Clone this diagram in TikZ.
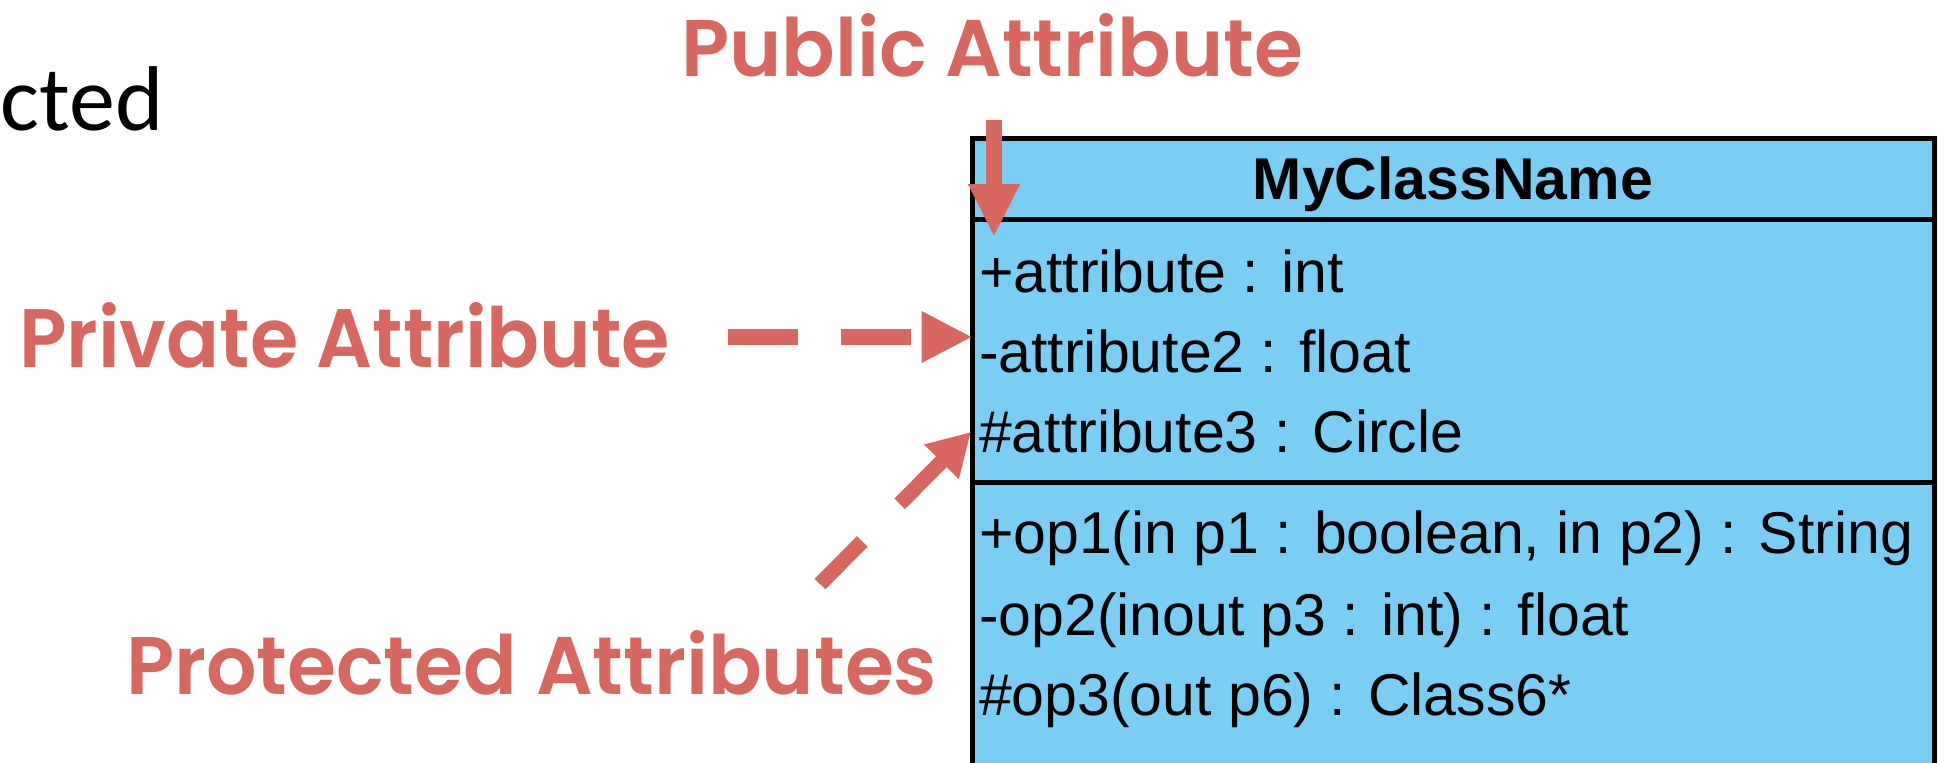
\documentclass[tikz,border=0pt]{standalone}
\usepackage{fontspec}
\setmainfont{Liberation Sans}
\newfontfamily\calloutfont{Poppins SemiBold}
\newfontfamily\slidefont{Carlito}
\usetikzlibrary{arrows.meta}
\definecolor{callout}{RGB}{216,103,95}
\definecolor{classfill}{RGB}{122,206,243}

\begin{document}
\begin{tikzpicture}[x=0.5pt,y=-0.5pt,
  callout/.style={inner sep=0pt, outer sep=0pt, text=callout, anchor=base west},
  member/.style={inner sep=0pt, outer sep=0pt, anchor=base west,
    font=\fontsize{29.5pt}{30pt}\selectfont},
  part/.style={draw=black, line width=2.5pt, fill=classfill, inner sep=0pt,
    outer sep=0pt, anchor=north west, minimum width=481pt},
  pointer/.style={draw=callout, line width=8pt},
]
\path[use as bounding box] (0,0) rectangle (1944,762);
\clip (0,0) rectangle (1944,762);

% class box: name, attributes, operations
\node[part, minimum height=40.25pt] (hdr) at (972.5,138.5) {};
\node[part, minimum height=131.5pt] (attrs) at (hdr.south west) {};
\node[part, minimum height=159pt] (ops) at (attrs.south west) {};

\node[inner sep=0pt, anchor=base, font=\bfseries\fontsize{29.5pt}{30pt}\selectfont]
  (cname) at (1453,199) {MyClassName};

\node[member] (a1) at (979,292) {+attribute : int};
\node[member] (a2) at (979,372) {-attribute2 : float};
\node[member] (a3) at (979,452) {\#attribute3 : Circle};
\node[member] (o1) at (979,553) {+op1(in p1 : boolean, in p2) : String};
\node[member] (o2) at (979,635) {-op2(inout p3 : int) : float};
\node[member] (o3) at (979,715) {\#op3(out p6) : Class6*};

% fragment of a heading on the left
\node[inner sep=0pt, anchor=base west] (frag) at (0,130)
  {\slidefont\fontsize{46pt}{50pt}\selectfont cted};

% callout labels
\node[callout] (pub) at (681,76)
  {\resizebox{311pt}{31.5pt}{\calloutfont Public Attribute}};
\node[callout] (priv) at (19,367)
  {\resizebox{325.5pt}{32.5pt}{\calloutfont Private Attribute}};
\node[callout] (prot) at (126,694)
  {\resizebox{405.5pt}{32pt}{\calloutfont Protected Attributes}};

% callout arrows
\coordinate (pubtail) at (994,120);
\coordinate (pubtip) at (994,237);
\coordinate (privtail) at (728,337);
\coordinate (prottail) at (820,584);
\coordinate (prottip) at (971,432);

\draw[pointer, -{Triangle[length=26.5pt,width=24pt]}] (pubtail) -- (pubtip);
\draw[pointer, dash pattern=on 35pt off 21.5pt,
  -{Triangle[length=25.5pt,width=24pt]}] (privtail) -- (attrs.west |- privtail);
\draw[pointer, line width=7.5pt, dash pattern=on 30pt off 26.5pt,
  -{Triangle[length=21pt,width=23pt]}] (prottail) -- (prottip);
\end{tikzpicture}
\end{document}
